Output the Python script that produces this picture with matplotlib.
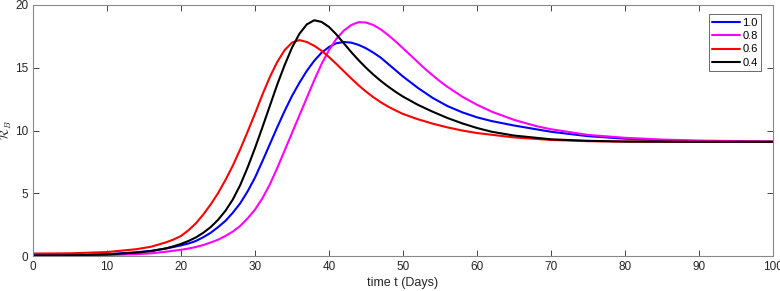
import matplotlib
matplotlib.use("Agg")
import matplotlib.pyplot as plt

plt.rcParams['font.family'] = ['Liberation Sans', 'DejaVu Sans']
plt.rcParams['mathtext.fontset'] = 'cm'

t_red = [0, 5, 10, 14, 16, 18, 19, 20, 21, 22, 23, 24, 25, 26, 27, 28, 29, 30, 31, 32, 33, 34, 35, 36, 37, 38,
         39, 40, 41, 42, 43, 44, 45, 46, 47, 48, 49, 50, 52, 54, 56, 58, 60, 65, 70, 75, 80, 90, 100]
v_red = [0.2, 0.22, 0.32, 0.55, 0.75, 1.1, 1.32, 1.6, 2.05, 2.6, 3.3, 4.1, 5.0, 6.05, 7.2, 8.5, 9.9, 11.35,
         12.85, 14.25, 15.45, 16.4, 17.0, 17.2, 17.05, 16.75, 16.35, 15.85, 15.3, 14.72, 14.15, 13.6, 13.1,
         12.65, 12.25, 11.9, 11.6, 11.32, 10.9, 10.55, 10.25, 10.0, 9.8, 9.45, 9.25, 9.15, 9.12, 9.1, 9.1]

t_black = [0, 5, 10, 14, 16, 18, 19, 20, 21, 22, 23, 24, 25, 26, 27, 28, 29, 30, 31, 32, 33, 34, 35, 36, 37, 38,
           39, 40, 41, 42, 43, 44, 45, 46, 47, 48, 49, 50, 52, 54, 56, 58, 60, 62, 65, 70, 75, 80, 90, 100]
v_black = [0.05, 0.06, 0.12, 0.28, 0.4, 0.62, 0.78, 0.97, 1.2, 1.48, 1.85, 2.3, 2.88, 3.6, 4.5, 5.65, 7.05,
           8.6, 10.25, 11.95, 13.65, 15.2, 16.6, 17.7, 18.45, 18.78, 18.65, 18.25, 17.65, 16.95, 16.25, 15.6,
           15.0, 14.45, 13.95, 13.5, 13.08, 12.7, 12.05, 11.5, 11.0, 10.57, 10.2, 9.9, 9.6, 9.3, 9.18, 9.12,
           9.1, 9.1]

t_blue = [0, 5, 10, 14, 16, 18, 20, 21, 22, 23, 24, 25, 26, 27, 28, 29, 30, 31, 32, 33, 34, 35, 36, 37, 38,
          39, 40, 41, 42, 43, 44, 45, 46, 47, 48, 49, 50, 52, 54, 56, 58, 60, 62, 65, 70, 75, 80, 85, 90, 100]
v_blue = [0.05, 0.07, 0.15, 0.3, 0.42, 0.6, 0.85, 1.0, 1.2, 1.5, 1.85, 2.3, 2.8, 3.45, 4.2, 5.15, 6.25, 7.55,
          8.9, 10.25, 11.55, 12.75, 13.8, 14.75, 15.55, 16.2, 16.65, 16.95, 17.05, 17.0, 16.82, 16.55, 16.2,
          15.8, 15.3, 14.8, 14.3, 13.4, 12.6, 11.95, 11.45, 11.05, 10.75, 10.4, 9.9, 9.55, 9.35, 9.22, 9.15,
          9.1]

t_mag = [0, 5, 10, 14, 16, 18, 20, 21, 22, 23, 24, 25, 26, 27, 28, 29, 30, 31, 32, 33, 34, 35, 36, 37, 38,
         39, 40, 41, 42, 43, 44, 45, 46, 47, 48, 49, 50, 51, 52, 53, 54, 55, 56, 58, 60, 62, 65, 68, 70, 75,
         80, 85, 90, 100]
v_mag = [0.04, 0.05, 0.08, 0.15, 0.22, 0.35, 0.5, 0.6, 0.72, 0.88, 1.08, 1.3, 1.6, 1.95, 2.4, 3.0, 3.7, 4.6,
         5.7, 7.0, 8.4, 9.8, 11.2, 12.6, 14.0, 15.3, 16.4, 17.3, 17.95, 18.4, 18.63, 18.6, 18.4, 18.05, 17.6,
         17.1, 16.55, 16.0, 15.45, 14.9, 14.4, 13.92, 13.48, 12.7, 12.05, 11.5, 10.85, 10.35, 10.1, 9.65,
         9.42, 9.28, 9.2, 9.12]

labels = ['1.0', '0.8', '0.6', '0.4']

fig = plt.figure(figsize=(7.8, 2.91), dpi=100)
ax = fig.add_axes([0.0423, 0.120, 0.9487, 0.863])

kw = dict(lw=1.5, solid_joinstyle='round', solid_capstyle='round')
ax.plot(t_blue, v_blue, color=(0, 0, 1), label=labels[0], **kw)
ax.plot(t_mag, v_mag, color=(1, 0, 1), label=labels[1], **kw)
ax.plot(t_red, v_red, color=(1, 0, 0), label=labels[2], **kw)
ax.plot(t_black, v_black, color='black', label=labels[3], **kw)

ax.set_xlim(0, 100)
ax.set_ylim(0, 20)
ax.set_xticks(range(0, 101, 10))
ax.set_yticks([0, 5, 10, 15, 20])
ax.tick_params(direction='in', top=True, right=True, labelsize=8.5, length=4,
               color='#262626', labelcolor='#262626', width=0.6)
for s in ax.spines.values():
    s.set_color('#888888')
    s.set_linewidth(0.8)
ax.set_xlabel('time t (Days)', fontsize=9, color='#262626', labelpad=3)
ax.set_ylabel(r'$\mathcal{R}_B$', fontsize=9, color='#262626')
ax.yaxis.set_label_coords(-0.026, 0.5)

leg = ax.legend(loc='upper right', bbox_to_anchor=(0.984, 0.962), fontsize=8, frameon=True,
                fancybox=False, edgecolor='#262626', handlelength=2.5, handletextpad=0.2,
                labelspacing=0.3, borderpad=0.3, borderaxespad=0.0)
leg.get_frame().set_linewidth(0.6)

fig.savefig('out.png', dpi=100)
